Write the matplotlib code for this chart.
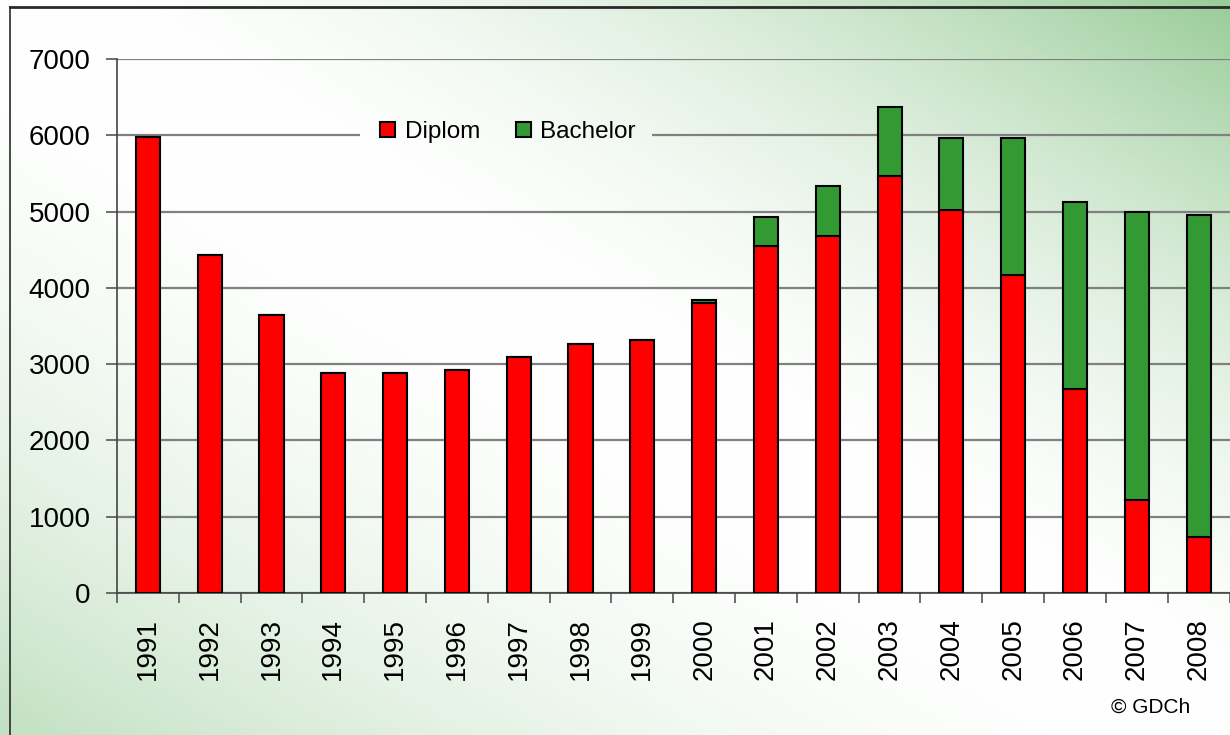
import numpy as np
import matplotlib
matplotlib.use("Agg")
import matplotlib.pyplot as plt
from matplotlib.lines import Line2D
from matplotlib.patches import Patch, Rectangle

plt.rcParams['font.family'] = ['Liberation Sans', 'DejaVu Sans']

years = ["1991", "1992", "1993", "1994", "1995", "1996", "1997", "1998", "1999",
         "2000", "2001", "2002", "2003", "2004", "2005", "2006", "2007", "2008"]
diplom = [5980, 4430, 3650, 2890, 2890, 2920, 3100, 3260, 3310,
          3800, 4545, 4675, 5460, 5015, 4175, 2680, 1215, 740]
bachelor = [0, 0, 0, 0, 0, 0, 0, 0, 0,
            40, 390, 655, 915, 945, 1785, 2440, 3775, 4220]
yticks = [0, 1000, 2000, 3000, 4000, 5000, 6000, 7000]

W, H = 1230, 735
fig = plt.figure(figsize=(W / 100, H / 100), dpi=100)

# background gradient
white = np.array([1.0, 1.0, 1.0])
green = np.array([0.60, 0.80, 0.60])
def bg_color(u, v):
    t = u - v
    amt = np.where(t > 0, np.clip(t, 0, 1) ** 1.8, 0.6 * np.clip(-t, 0, 1) ** 1.8)
    return white[None, None, :] * (1 - amt[..., None]) + green[None, None, :] * amt[..., None]

uu, vv = np.meshgrid(np.linspace(0, 1, 400), np.linspace(0, 1, 240))
img = bg_color(uu, vv)
bg = fig.add_axes([0, 0, 1, 1], zorder=-10)
bg.imshow(img, aspect='auto', extent=[0, 1, 0, 1], origin='upper')
bg.set_xlim(0, 1); bg.set_ylim(0, 1)
bg.axis('off')

# frame lines
fig.add_artist(Line2D([10 / W, 1], [1 - 7 / H, 1 - 7 / H], transform=fig.transFigure,
                      color='#2a2a2a', lw=2.0))
fig.add_artist(Line2D([10 / W, 10 / W], [0, 1 - 7 / H], transform=fig.transFigure,
                      color='#2a2a2a', lw=1.2))

left, right = 117 / W, 1229.5 / W
bottom, top = 1 - 593 / H, 1 - 59 / H
ax = fig.add_axes([left, bottom, right - left, top - bottom])
ax.set_facecolor('none')

x = np.arange(len(years))
ax.bar(x, diplom, width=0.39, color='#ff0000', edgecolor='black', linewidth=1.5,
       label='Diplom', zorder=3)
ax.bar(x, bachelor, width=0.39, bottom=diplom, color='#339933', edgecolor='black',
       linewidth=1.5, label='Bachelor', zorder=3)

ax.set_xlim(-0.5, len(years) - 0.5)
ax.set_ylim(0, 7000)
ax.set_yticks(yticks)
ax.set_yticklabels([str(v) for v in yticks], fontsize=20)
ax.tick_params(axis='y', length=8, width=1.2, color='#555555', pad=11)
ax.set_xticks(x)
ax.set_xticklabels(years, rotation=90, fontsize=20)
ax.set_xticks(np.arange(-0.5, len(years), 1.0), minor=True)
ax.tick_params(axis='x', which='major', length=0, pad=18)
ax.tick_params(axis='x', which='minor', length=7.5, width=1.2, color='#555555')

ax.grid(axis='y', color='#808080', linewidth=1.6, zorder=0)
ax.set_axisbelow(True)
for s in ['top', 'right']:
    ax.spines[s].set_visible(False)
ax.spines['left'].set_color('#444444')
ax.spines['left'].set_linewidth(1.2)
ax.spines['bottom'].set_color('#444444')
ax.spines['bottom'].set_linewidth(1.2)

# legend on overlay with gradient patch behind it (hides gridline)
lax = fig.add_axes([0, 0, 1, 1], zorder=5)
lax.set_xlim(0, 1); lax.set_ylim(0, 1)
lax.axis('off')
im2 = lax.imshow(img, aspect='auto', extent=[0, 1, 0, 1], origin='upper')
clip = Rectangle((360 / W, 1 - 150 / H), (652 - 360) / W, 36 / H,
                 transform=lax.transData)
im2.set_clip_path(clip)
handles = [Patch(facecolor='#ff0000', edgecolor='black', linewidth=1.5),
           Patch(facecolor='#339933', edgecolor='black', linewidth=1.5)]
leg = lax.legend(handles, ['Diplom', 'Bachelor'], loc='center',
                 bbox_to_anchor=(508 / W, 1 - 132 / H), bbox_transform=fig.transFigure,
                 ncol=2, fontsize=17.5, frameon=False,
                 handlelength=0.62, handleheight=0.62, handletextpad=0.4,
                 columnspacing=1.45, borderpad=0.3)

fig.text(1151 / W, 1 - 707 / H, '© GDCh', fontsize=15, ha='center', va='center')

fig.savefig('out.png', dpi=100)
